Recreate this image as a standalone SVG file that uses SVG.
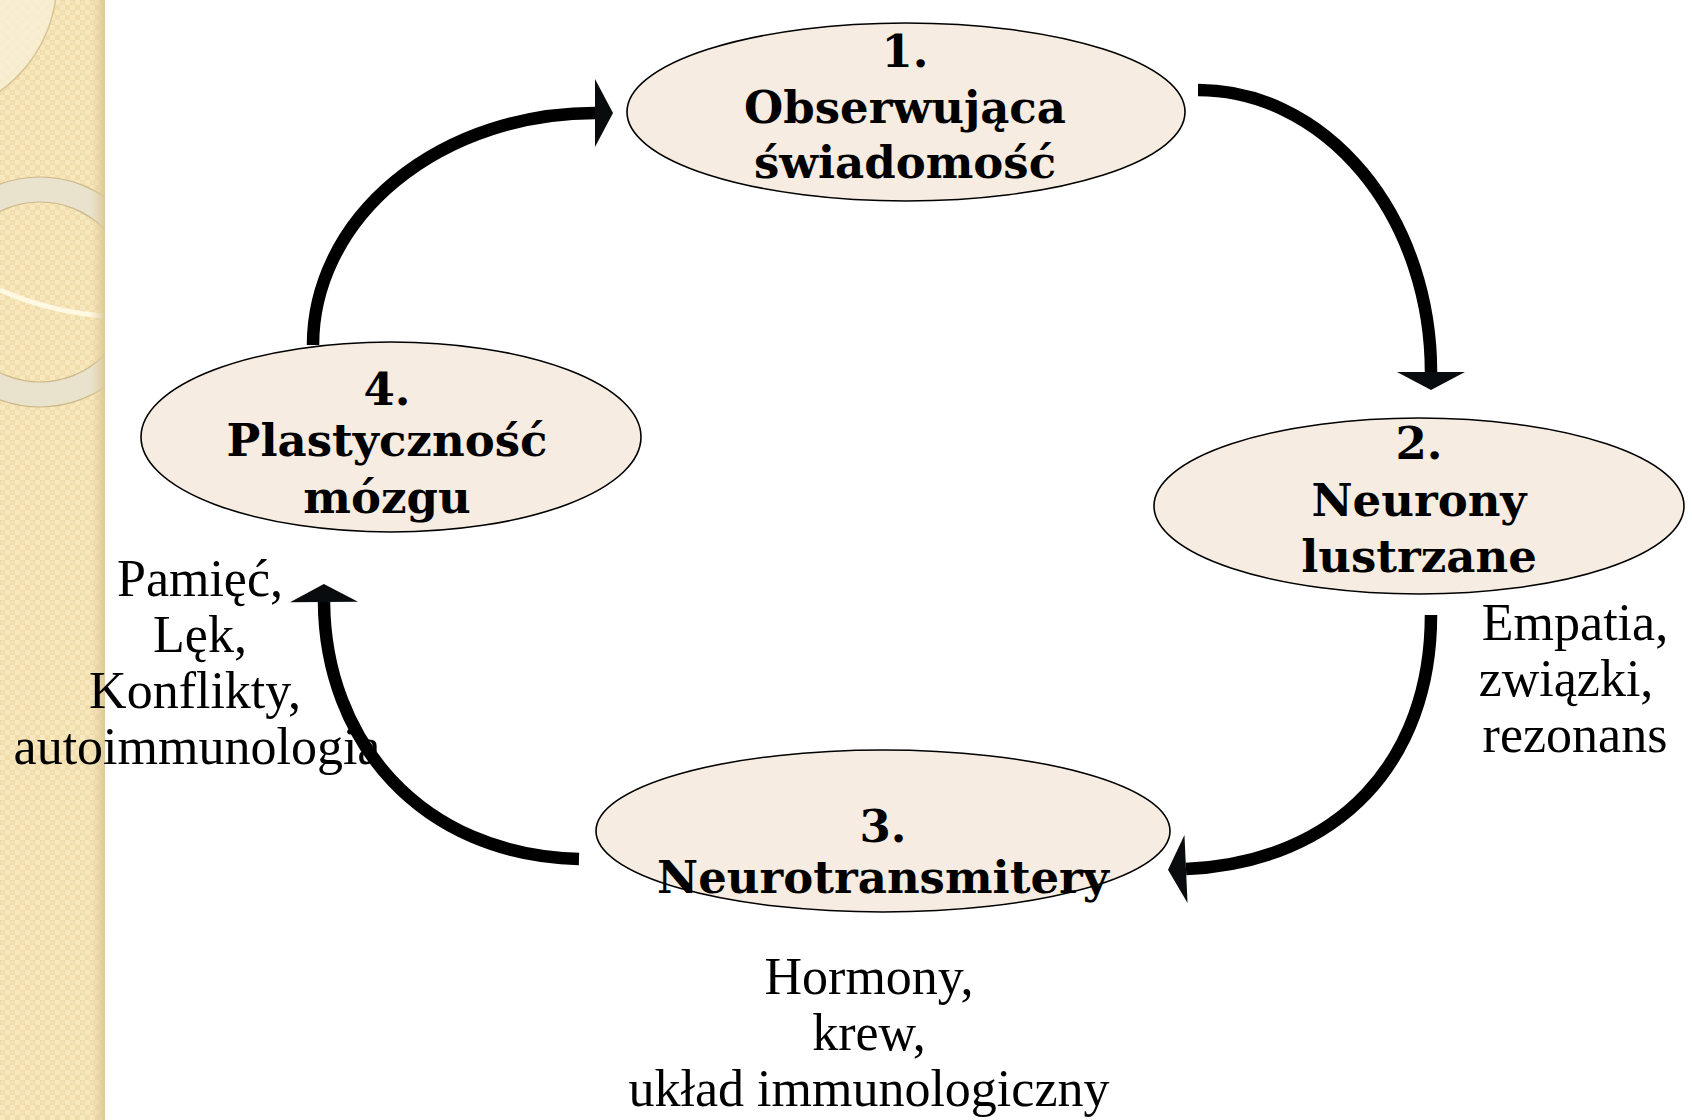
<svg xmlns="http://www.w3.org/2000/svg" width="1692" height="1120" viewBox="0 0 1692 1120">
  <defs>
    <pattern id="chk" width="10" height="10" patternUnits="userSpaceOnUse">
      <rect width="10" height="10" fill="#f8e8bd"/>
      <rect x="0" y="0" width="5" height="5" fill="#f1ddab"/>
      <rect x="5" y="5" width="5" height="5" fill="#f1ddab"/>
      <rect x="1.5" y="1.5" width="2" height="2" fill="#f8e8bd"/>
    </pattern>
    <linearGradient id="edge" x1="0" y1="0" x2="1" y2="0">
      <stop offset="0" stop-color="#e6d3a4" stop-opacity="0"/>
      <stop offset="1" stop-color="#d9c595" stop-opacity="0.9"/>
    </linearGradient>
    <marker id="ah" markerUnits="userSpaceOnUse" markerWidth="40" markerHeight="80" refX="0" refY="34" orient="auto" viewBox="0 0 40 80" overflow="visible">
      <path d="M0,0 L18,34 L0,68 Z" fill="#080c0e"/>
    </marker>
    <clipPath id="strip"><rect x="0" y="0" width="105" height="1120"/></clipPath>
  </defs>
  <style>
    .node { fill: #f6ece1; stroke: #000; stroke-width: 1.6; }
    .title { font-family: "DejaVu Serif", "Liberation Serif", serif; font-weight: bold; font-size: 45px; fill: #000; text-anchor: middle; }
    .note { font-family: "Liberation Serif", "Times New Roman", serif; font-size: 52px; fill: #000; text-anchor: middle; }
    .conn { fill: none; stroke: #000; stroke-width: 12.5; marker-end: url(#ah); }
  </style>

  <rect width="1692" height="1120" fill="#ffffff"/>

  <g id="background-strip" clip-path="url(#strip)">
    <rect x="0" y="0" width="105" height="1120" fill="url(#chk)"/>
    <circle cx="-80" cy="-20" r="137" fill="#f8efd6" fill-opacity="0.8" stroke="#d8c597" stroke-width="1.5"/>
    <circle cx="40" cy="292" r="102.5" fill="none" stroke="#e9e2cd" stroke-width="25"/>
    <circle cx="40" cy="292" r="115" fill="none" stroke="#cdb88a" stroke-width="1.2"/>
    <circle cx="40" cy="292" r="90" fill="none" stroke="#cdb88a" stroke-width="1.2"/>
    <path d="M0,290 Q50,312 105,316" fill="none" stroke="#fff8e2" stroke-width="5"/>
    <rect x="90" y="0" width="15" height="1120" fill="url(#edge)"/>
  </g>

  <g id="connectors">
    <path class="conn" d="M1198,90 A233,282 0 0 1 1431,372"/>
    <path class="conn" d="M1431,615 C1431,760 1340,862 1186,869"/>
    <path class="conn" d="M579,859 C420,855 325,740 324,602"/>
    <path class="conn" d="M313,345 A282,232 0 0 1 595,113"/>
  </g>

  <g id="node1">
    <ellipse class="node" cx="906" cy="112" rx="279" ry="89"/>
    <text class="title" x="905" y="67">1.</text>
    <text class="title" x="905" y="123">Obserwująca</text>
    <text class="title" x="905" y="178">świadomość</text>
  </g>

  <g id="node2">
    <ellipse class="node" cx="1419" cy="506" rx="265" ry="88"/>
    <text class="title" x="1419" y="459">2.</text>
    <text class="title" x="1419" y="516">Neurony</text>
    <text class="title" x="1419" y="572">lustrzane</text>
  </g>

  <g id="node3">
    <ellipse class="node" cx="883" cy="831" rx="287" ry="81"/>
    <text class="title" x="883" y="842">3.</text>
    <text class="title" x="883" y="893">Neurotransmitery</text>
  </g>

  <g id="node4">
    <ellipse class="node" cx="391" cy="437" rx="250" ry="95"/>
    <text class="title" x="387" y="405">4.</text>
    <text class="title" x="387" y="456">Plastyczność</text>
    <text class="title" x="387" y="513">mózgu</text>
  </g>

  <g id="labels">
    <text class="note" x="1575" y="640">Empatia,</text>
    <text class="note" x="1566" y="696">związki,</text>
    <text class="note" x="1575" y="752">rezonans</text>

    <text class="note" x="869" y="994">Hormony,</text>
    <text class="note" x="869" y="1050">krew,</text>
    <text class="note" x="869" y="1106">układ immunologiczny</text>

    <text class="note" x="200" y="596">Pamięć,</text>
    <text class="note" x="200" y="652">Lęk,</text>
    <text class="note" x="195" y="708">Konflikty,</text>
    <text class="note" x="197" y="764">autoimmunologia</text>
  </g>
</svg>
